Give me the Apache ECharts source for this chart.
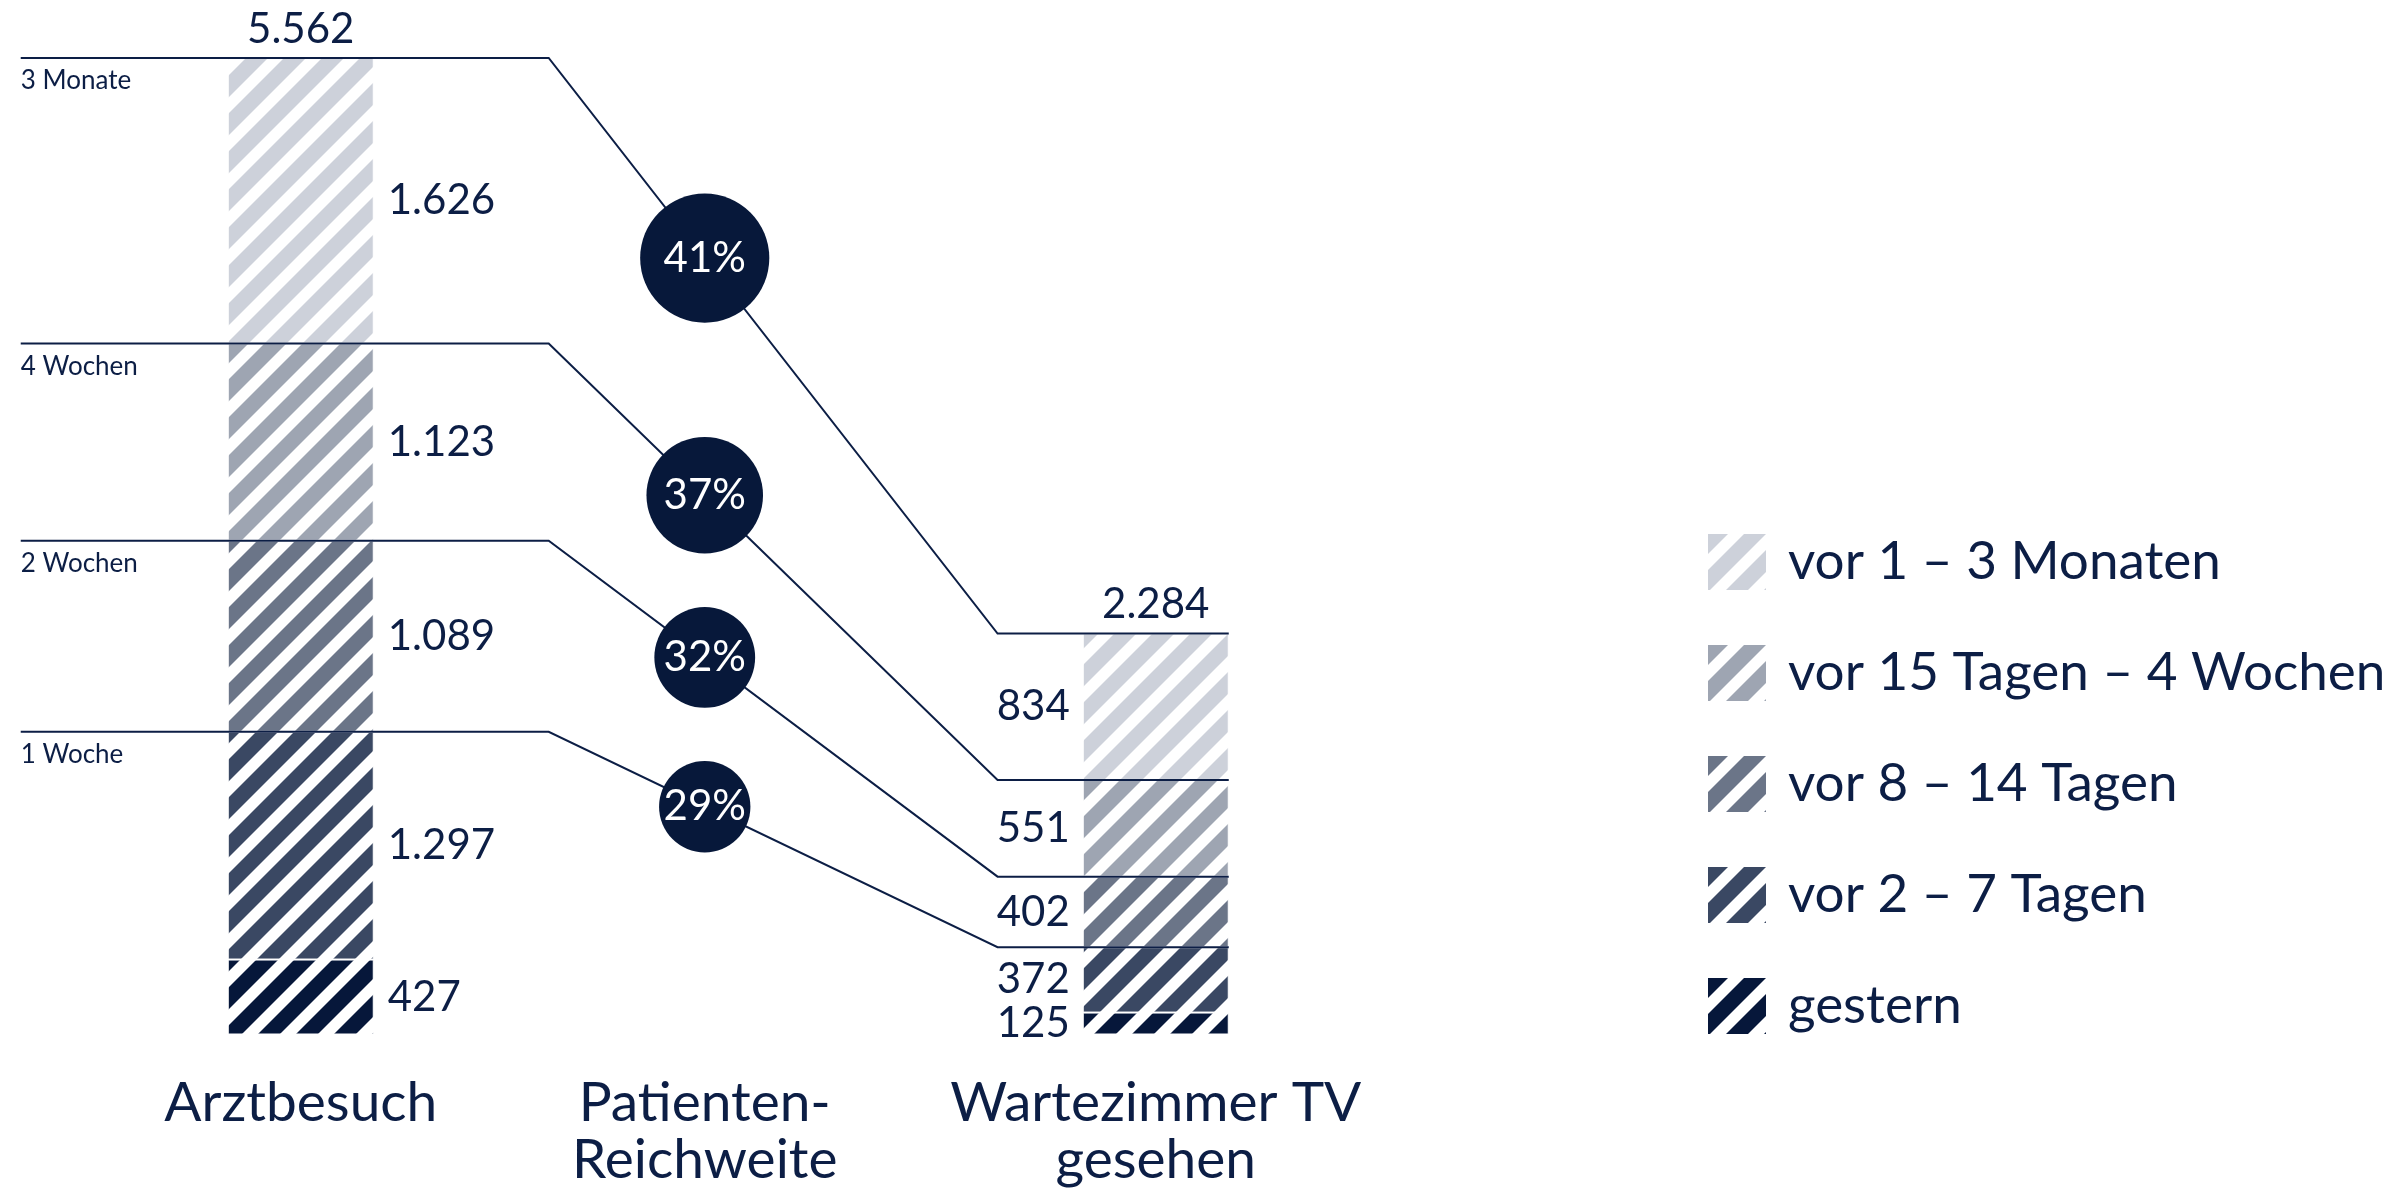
<!DOCTYPE html>
<html><head><meta charset="utf-8">
<script src="https://cdn.jsdelivr.net/npm/echarts@6/dist/echarts.min.js"></script>
<style>html,body{margin:0;padding:0;background:#fff}#c{width:2403px;height:1192px}</style>
</head><body><div id="c"></div>
<script>
// ---------- data ----------
const categories = ['Arztbesuch', 'Patienten-\nReichweite', 'Wartezimmer TV\ngesehen'];
// stacked bottom-up
const seriesNames = ['gestern', 'vor 2 – 7 Tagen', 'vor 8 – 14 Tagen', 'vor 15 Tagen – 4 Wochen', 'vor 1 – 3 Monaten'];
const gestern            = [427,  null, 125];
const vor2bis7Tagen      = [1297, null, 372];
const vor8bis14Tagen     = [1089, null, 402];
const vor15TagenBis4Wo   = [1123, null, 551];
const vor1bis3Monaten    = [1626, null, 834];
const thresholdLabels = ['3 Monate', '4 Wochen', '2 Wochen', '1 Woche'];
const reachPercent = [41, 37, 32, 29];

// ---------- styles ----------
const NAVY = '#0c1e45';
const CIRCLE = '#07183a';
const FONT = 'Lato';
const segColors = ['#06173a', '#3a4863', '#6b7588', '#9ea5b2', '#cdd1da'];
const BAR_W = 146;

function hatch(color) {
  const P = 38, c = 22;
  const cv = document.createElement('canvas');
  cv.width = P; cv.height = P;
  const ctx = cv.getContext('2d');
  ctx.strokeStyle = color;
  ctx.lineWidth = c / Math.SQRT2;
  for (let k = -1; k <= 2; k++) {
    const s = k * P + c / 2;
    ctx.beginPath(); ctx.moveTo(-P, s + P); ctx.lineTo(s + P, -P); ctx.stroke();
  }
  return { image: cv, repeat: 'repeat' };
}
function fmt(v) { return String(v).replace(/\B(?=(\d{3})+(?!\d))/g, '.'); }

const layers = [gestern, vor2bis7Tagen, vor8bis14Tagen, vor15TagenBis4Wo, vor1bis3Monaten];
// cumulative tops per layer
const cum = layers.map((_, i) => [0, 2].map(ci => layers.slice(0, i + 1).reduce((a, l) => a + l[ci], 0)));
const totals = cum[cum.length - 1];

const barSeries = layers.map((arr, i) => ({
  name: seriesNames[i],
  type: 'bar',
  stack: 'total',
  barWidth: BAR_W,
  z: 2,
  itemStyle: { color: hatch(segColors[i]), borderColor: '#fff', borderWidth: 1 },
  emphasis: { disabled: true },
  label: {
    show: true, fontFamily: FONT, fontSize: 42, color: NAVY, distance: 14,
    formatter: p => fmt(p.value)
  },
  data: arr.map((v, ci) => v == null ? '-' : { value: v, label: { position: ci === 0 ? 'right' : 'left', distance: ci === 0 ? 14 : 13 } })
}));

const lineData = thresholdLabels.map((lab, k) => {
  const li = layers.length - 1 - k;
  return [0, cum[li][0], cum[li][1], reachPercent[k], k];
});

const connectors = {
  type: 'custom',
  z: 5,
  clip: false,
  silent: true,
  encode: { x: 0, y: 1 },
  data: lineData,
  renderItem: function (params, api) {
    const yL = api.value(1), yR = api.value(2), pct = api.value(3), k = api.value(4);
    const pL = api.coord([0, yL]);
    const pR = api.coord([2, yR]);
    const S = pR[0] - pL[0];
    const x0 = pL[0] - 0.3275 * S;
    const xd0 = pL[0] + 0.29 * S;
    const xd1 = pL[0] + 0.815 * S;
    const x3 = pR[0] + BAR_W / 2;
    const cx = pL[0] + 0.4725 * S;
    const t = (cx - xd0) / (xd1 - xd0);
    const cy = pL[1] + t * (pR[1] - pL[1]);
    const r = pct * 3.15 / 2;
    return {
      type: 'group',
      children: [
        { type: 'polyline', shape: { points: [[x0, pL[1]], [xd0, pL[1]], [xd1, pR[1]], [x3, pR[1]]] },
          style: { stroke: NAVY, lineWidth: 2, fill: null } },
        { type: 'circle', shape: { cx: cx, cy: cy, r: r }, style: { fill: CIRCLE } },
        { type: 'text', style: { text: pct + '%', x: cx, y: cy, align: 'center', verticalAlign: 'middle',
            fill: '#fff', font: '42px ' + FONT } },
        { type: 'text', style: { text: thresholdLabels[k], x: x0, y: pL[1] + 10, align: 'left', verticalAlign: 'top',
            fill: NAVY, font: '26px ' + FONT } }
      ]
    };
  }
};

const totalsSeries = {
  type: 'scatter',
  name: 'Summe',
  symbolSize: 0,
  z: 6,
  silent: true,
  itemStyle: { opacity: 1 },
  data: [[0, totals[0]], [2, totals[1]]],
  label: { show: true, position: 'top', distance: 8, fontFamily: FONT, fontSize: 42, color: NAVY,
           formatter: p => fmt(p.value[1]) }
};

const chart = echarts.init(document.getElementById('c'), null, { renderer: 'canvas' });
chart.setOption({
  animation: false,
  backgroundColor: '#fff',
  grid: { left: 87, width: 1282.5, top: 58, bottom: 157.5, containLabel: false, outerBoundsMode: 'none' },
  xAxis: {
    type: 'category', data: categories,
    axisLine: { show: false }, axisTick: { show: false }, splitLine: { show: false },
    axisLabel: {
      interval: 0, margin: 40, fontFamily: FONT, fontSize: 55, lineHeight: 57, color: NAVY,
      formatter: (v, i) => i === 1 ? v.split('\n').map(s => '{mid|' + s + '}').join('\n') : v,
      rich: { mid: { fontFamily: FONT, fontSize: 55, lineHeight: 57, color: NAVY, padding: [0, 47, 0, 0] } }
    }
  },
  yAxis: { type: 'value', min: 0, max: totals[0], show: false },
  legend: {
    data: seriesNames.slice().reverse(),
    orient: 'vertical', left: 1706, top: 532, padding: 0,
    icon: 'rect', itemWidth: 60, itemHeight: 58, itemGap: 51,
    selectedMode: false,
    textStyle: { fontFamily: FONT, fontSize: 53, color: NAVY, padding: [0, 0, 0, 16] }
  },
  series: [...barSeries, connectors, totalsSeries]
});
</script>
</body></html>
